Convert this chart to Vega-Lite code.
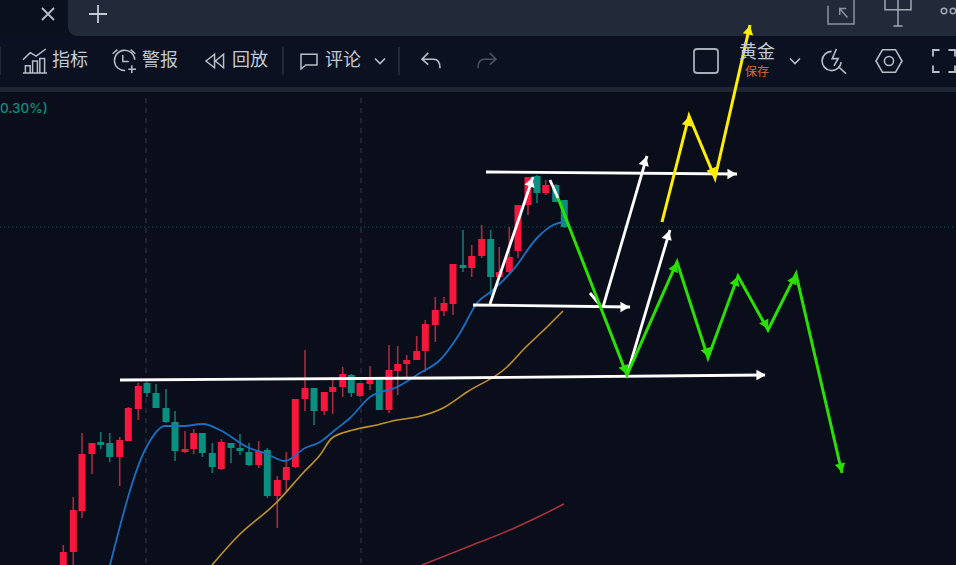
{"$schema":"https://vega.github.io/schema/vega-lite/v6.json","width":956,"height":565,"padding":0,"autosize":{"type":"none"},"background":"#090e1a","view":{"stroke":null},
"resolve":{"scale":{"color":"independent"}},
"datasets":{
"candles":[
{"x":63.3,"high":545,"low":565,"top":552,"bottom":565,"dir":"up"},
{"x":73.3,"high":497,"low":565,"top":510,"bottom":552,"dir":"up"},
{"x":82,"high":433,"low":518,"top":454,"bottom":511,"dir":"up"},
{"x":92,"high":443,"low":474,"top":443,"bottom":454,"dir":"up"},
{"x":100.7,"high":432,"low":449,"top":442,"bottom":445,"dir":"down"},
{"x":109.7,"high":433,"low":462,"top":443,"bottom":457,"dir":"down"},
{"x":119.7,"high":437,"low":486,"top":440,"bottom":457,"dir":"up"},
{"x":128.3,"high":407,"low":441,"top":408,"bottom":441,"dir":"up"},
{"x":138.3,"high":383,"low":420,"top":386,"bottom":409,"dir":"up"},
{"x":147,"high":382,"low":397,"top":383,"bottom":393,"dir":"down"},
{"x":156,"high":384,"low":408,"top":393,"bottom":408,"dir":"down"},
{"x":166,"high":389,"low":423,"top":408,"bottom":422,"dir":"down"},
{"x":175,"high":411,"low":461,"top":422,"bottom":451,"dir":"down"},
{"x":185,"high":431,"low":453,"top":449,"bottom":452,"dir":"up"},
{"x":193.7,"high":429,"low":454,"top":433,"bottom":449,"dir":"up"},
{"x":202.3,"high":433,"low":457,"top":433,"bottom":453,"dir":"down"},
{"x":212.3,"high":443,"low":473,"top":453,"bottom":467,"dir":"down"},
{"x":221.3,"high":439,"low":470,"top":442,"bottom":469,"dir":"up"},
{"x":231,"high":443,"low":463,"top":443,"bottom":448,"dir":"down"},
{"x":240,"high":434,"low":455,"top":448,"bottom":451,"dir":"down"},
{"x":249,"high":443,"low":466,"top":452,"bottom":465,"dir":"down"},
{"x":258.7,"high":441,"low":468,"top":451,"bottom":465,"dir":"up"},
{"x":267.3,"high":448,"low":498,"top":450,"bottom":496,"dir":"down"},
{"x":277.3,"high":476,"low":528,"top":480,"bottom":496,"dir":"up"},
{"x":286.3,"high":452,"low":491,"top":467,"bottom":480,"dir":"up"},
{"x":295.3,"high":399,"low":468,"top":399,"bottom":467,"dir":"up"},
{"x":305,"high":350,"low":411,"top":388,"bottom":399,"dir":"up"},
{"x":314,"high":388,"low":425,"top":388,"bottom":411,"dir":"down"},
{"x":324.3,"high":392,"low":415,"top":392,"bottom":411,"dir":"up"},
{"x":332.7,"high":380,"low":414,"top":387,"bottom":392,"dir":"up"},
{"x":342.7,"high":367,"low":397,"top":374,"bottom":387,"dir":"up"},
{"x":351.3,"high":374,"low":397,"top":375,"bottom":393,"dir":"down"},
{"x":360,"high":383,"low":397,"top":383,"bottom":396,"dir":"up"},
{"x":370,"high":366,"low":390,"top":380,"bottom":384,"dir":"up"},
{"x":379.3,"high":380,"low":410,"top":380,"bottom":410,"dir":"down"},
{"x":389,"high":345,"low":413,"top":370,"bottom":410,"dir":"up"},
{"x":397.7,"high":346,"low":395,"top":364,"bottom":371,"dir":"up"},
{"x":406.7,"high":355,"low":377,"top":360,"bottom":364,"dir":"up"},
{"x":416.7,"high":336,"low":360,"top":351,"bottom":360,"dir":"up"},
{"x":425.3,"high":320,"low":372,"top":324,"bottom":351,"dir":"up"},
{"x":435.3,"high":297,"low":342,"top":310,"bottom":325,"dir":"up"},
{"x":444,"high":297,"low":316,"top":303,"bottom":311,"dir":"up"},
{"x":453,"high":264,"low":315,"top":264,"bottom":304,"dir":"up"},
{"x":463,"high":230,"low":272,"top":265,"bottom":268,"dir":"down"},
{"x":471.7,"high":245,"low":277,"top":256,"bottom":268,"dir":"up"},
{"x":481.7,"high":225,"low":258,"top":239,"bottom":256,"dir":"up"},
{"x":490.7,"high":230,"low":295,"top":239,"bottom":277,"dir":"down"},
{"x":499.3,"high":247,"low":277,"top":272,"bottom":277,"dir":"up"},
{"x":509.3,"high":227,"low":273,"top":257,"bottom":272,"dir":"up"},
{"x":518,"high":205,"low":258,"top":205,"bottom":251,"dir":"up"},
{"x":528,"high":177,"low":215,"top":177,"bottom":205,"dir":"up"},
{"x":537,"high":175,"low":203,"top":176,"bottom":193,"dir":"down"},
{"x":545.7,"high":180,"low":195,"top":185,"bottom":193,"dir":"up"},
{"x":555.7,"high":184,"low":202,"top":185,"bottom":202,"dir":"down"},
{"x":564.3,"high":200,"low":228,"top":200,"bottom":227,"dir":"down"}
],
"whiteArrows":[
{"seg":"a","i":0,"x":120,"y":380},{"seg":"a","i":1,"x":440,"y":378},{"seg":"a","i":2,"x":765,"y":375},
{"seg":"b","i":0,"x":473,"y":305},{"seg":"b","i":1,"x":630,"y":307},
{"seg":"c","i":0,"x":486,"y":172},{"seg":"c","i":1,"x":737,"y":174},
{"seg":"d","i":0,"x":490,"y":304},{"seg":"d","i":1,"x":533,"y":177},
{"seg":"e","i":0,"x":603,"y":307},{"seg":"e","i":1,"x":647,"y":156},
{"seg":"f","i":0,"x":627,"y":375},{"seg":"f","i":1,"x":670,"y":230},
{"seg":"g","i":0,"x":550,"y":180},{"seg":"g","i":1,"x":558,"y":198},
{"seg":"h","i":0,"x":590,"y":293},{"seg":"h","i":1,"x":600,"y":305}
],
"whiteHeads":[{"x":761,"y":375,"heading":90},{"x":625,"y":307,"heading":90},{"x":732,"y":174,"heading":90},{"x":531,"y":182,"heading":19},{"x":645,"y":161,"heading":16},{"x":668,"y":235,"heading":16}],
"greenPath":[{"i":0,"x":558,"y":198},{"i":1,"x":627,"y":375},{"i":2,"x":677,"y":262},{"i":3,"x":708,"y":358},{"i":4,"x":738,"y":276},{"i":5,"x":768,"y":330},{"i":6,"x":796,"y":274},{"i":7,"x":842,"y":473}],
"greenHeads":[{"x":625,"y":370,"heading":159},{"x":675,"y":267,"heading":24},{"x":707,"y":353,"heading":162},{"x":736,"y":281,"heading":20},{"x":766,"y":325,"heading":151},{"x":794,"y":279,"heading":27},{"x":841,"y":468,"heading":167}],
"yellowPath":[{"i":0,"x":662,"y":222},{"i":1,"x":689,"y":116},{"i":2,"x":715,"y":178},{"i":3,"x":750,"y":25}],
"yellowHeads":[{"x":688,"y":121,"heading":14},{"x":713,"y":173,"heading":157},{"x":749,"y":30,"heading":13}],
"ma20":[{"i":0,"x":110,"y":565},{"i":1,"x":146,"y":448},{"i":2,"x":165,"y":426},{"i":3,"x":183,"y":426},{"i":4,"x":203,"y":424},{"i":5,"x":220,"y":430},{"i":6,"x":247,"y":447},{"i":7,"x":267,"y":454},{"i":8,"x":285,"y":461},{"i":9,"x":305,"y":448},{"i":10,"x":320,"y":442},{"i":11,"x":335,"y":430},{"i":12,"x":350,"y":418},{"i":13,"x":370,"y":397},{"i":14,"x":397,"y":387},{"i":15,"x":420,"y":373},{"i":16,"x":440,"y":360},{"i":17,"x":460,"y":333},{"i":18,"x":477,"y":303},{"i":19,"x":493,"y":290},{"i":20,"x":513,"y":270},{"i":21,"x":537,"y":238},{"i":22,"x":553,"y":225},{"i":23,"x":563,"y":222}],
"ma50":[{"i":0,"x":212,"y":565},{"i":1,"x":237,"y":537},{"i":2,"x":277,"y":502},{"i":3,"x":303,"y":473},{"i":4,"x":320,"y":455},{"i":5,"x":332,"y":438},{"i":6,"x":353,"y":430},{"i":7,"x":377,"y":425},{"i":8,"x":397,"y":420},{"i":9,"x":417,"y":417},{"i":10,"x":443,"y":408},{"i":11,"x":467,"y":392},{"i":12,"x":507,"y":367},{"i":13,"x":523,"y":350},{"i":14,"x":547,"y":327},{"i":15,"x":563,"y":311}],
"ma200":[{"i":0,"x":422,"y":565},{"i":1,"x":470,"y":546},{"i":2,"x":510,"y":530},{"i":3,"x":540,"y":516},{"i":4,"x":564,"y":504}]
},
"encoding":{
"x":{"field":"x","type":"quantitative","scale":{"domain":[0,956],"nice":false,"zero":false,"padding":0},"axis":null},
"y":{"field":"y","type":"quantitative","scale":{"domain":[565,0],"nice":false,"zero":false,"padding":0},"axis":null}
},
"layer":[
{"data":{"values":[{"x":0,"x2":956,"y":36,"y2":87}]},"mark":{"type":"rect","color":"#0b1120"},"encoding":{"x2":{"field":"x2"},"y2":{"field":"y2"}}},
{"data":{"values":[{"x":0,"x2":68,"y":0,"y2":36}]},"mark":{"type":"rect","color":"#0a101e"},"encoding":{"x2":{"field":"x2"},"y2":{"field":"y2"}}},
{"data":{"values":[{"x":68,"x2":956,"y":0,"y2":36}]},"mark":{"type":"rect","color":"#222a39","cornerRadiusBottomLeft":9},"encoding":{"x2":{"field":"x2"},"y2":{"field":"y2"}}},
{"data":{"values":[{"x":0,"x2":956,"y":87,"y2":92}]},"mark":{"type":"rect","color":"#1e2533"},"encoding":{"x2":{"field":"x2"},"y2":{"field":"y2"}}},
{"data":{"values":[{"x":283,"y":47,"y2":75},{"x":399,"y":47,"y2":75},{"x":0,"y":47,"y2":75}]},"mark":{"type":"rule","color":"#2a3140","strokeWidth":1.5},"encoding":{"y2":{"field":"y2"}}},
{"data":{"values":[{"x":146,"y":98,"y2":565},{"x":361,"y":98,"y2":565}]},"mark":{"type":"rule","color":"#2c3542","strokeWidth":1.2,"strokeDash":[5,5]},"encoding":{"y2":{"field":"y2"}}},
{"data":{"values":[{"x":0,"x2":956,"y":227}]},"mark":{"type":"rule","color":"#0f5f58","strokeWidth":1,"strokeDash":[1,3]},"encoding":{"x2":{"field":"x2"}}},
{"data":{"name":"candles"},"mark":{"type":"rule","strokeWidth":1.6},"encoding":{"y":{"field":"high","type":"quantitative","scale":{"domain":[565,0],"nice":false,"zero":false,"padding":0},"axis":null},"y2":{"field":"low"},"color":{"field":"dir","type":"nominal","scale":{"domain":["up","down"],"range":["#a82c40","#16756c"]},"legend":null}}},
{"data":{"name":"candles"},"mark":{"type":"bar","size":7},"encoding":{"y":{"field":"top","type":"quantitative","scale":{"domain":[565,0],"nice":false,"zero":false,"padding":0},"axis":null},"y2":{"field":"bottom"},"color":{"field":"dir","type":"nominal","scale":{"domain":["up","down"],"range":["#f9163c","#0b8f80"]},"legend":null}}},
{"data":{"name":"ma200"},"mark":{"type":"line","color":"#a8343a","strokeWidth":1.6,"interpolate":"monotone"},"encoding":{"order":{"field":"i"}}},
{"data":{"name":"ma50"},"mark":{"type":"line","color":"#c2922a","strokeWidth":1.6,"interpolate":"monotone"},"encoding":{"order":{"field":"i"}}},
{"data":{"name":"ma20"},"mark":{"type":"line","color":"#1a6fc4","strokeWidth":1.8,"interpolate":"monotone"},"encoding":{"order":{"field":"i"}}},
{"data":{"name":"whiteArrows"},"mark":{"type":"line","color":"#ffffff","strokeWidth":2.8},"encoding":{"detail":{"field":"seg"},"order":{"field":"i"}}},
{"data":{"name":"greenPath"},"mark":{"type":"line","color":"#29e000","strokeWidth":3},"encoding":{"order":{"field":"i"}}},
{"data":{"name":"yellowPath"},"mark":{"type":"line","color":"#ffee00","strokeWidth":3},"encoding":{"order":{"field":"i"}}},
{"data":{"name":"whiteHeads"},"mark":{"type":"point","shape":"triangle-up","filled":true,"opacity":1,"size":110,"color":"#ffffff"},"encoding":{"angle":{"field":"heading","type":"quantitative","scale":null}}},
{"data":{"name":"greenHeads"},"mark":{"type":"point","shape":"triangle-up","filled":true,"opacity":1,"size":110,"color":"#29e000"},"encoding":{"angle":{"field":"heading","type":"quantitative","scale":null}}},
{"data":{"name":"yellowHeads"},"mark":{"type":"point","shape":"triangle-up","filled":true,"opacity":1,"size":110,"color":"#ffee00"},"encoding":{"angle":{"field":"heading","type":"quantitative","scale":null}}},
{"data":{"values":[{"x":70,"y":61,"label":"指标"},{"x":160,"y":61,"label":"警报"},{"x":250,"y":61,"label":"回放"},{"x":343,"y":61,"label":"评论"},{"x":757,"y":53,"label":"黄金"}]},"mark":{"type":"text","font":"Noto Sans CJK SC","fontSize":18,"color":"#c4cad3"},"encoding":{"text":{"field":"label"}}},
{"data":{"values":[{"x":757,"y":72,"label":"保存"}]},"mark":{"type":"text","font":"Noto Sans CJK SC","fontSize":12,"color":"#e0672c"},"encoding":{"text":{"field":"label"}}},
{"data":{"values":[{"x":0,"y":109,"label":"0.30%)"}]},"mark":{"type":"text","font":"Inter","fontSize":13.5,"fontWeight":500,"align":"left","color":"#0b8f80"},"encoding":{"text":{"field":"label"}}},
{"data":{"values":[{"x":35,"y":61}]},"mark":{"type":"point","shape":"M-1,1 H1 M-0.8,1 V0.4 H-0.4 V1 M-0.2,1 V0 H0.2 V1 M0.4,1 V-0.2 H0.8 V1 M-1,-0.1 L-0.4,-0.7 L0.1,-0.4 L0.9,-1","size":576,"filled":false,"opacity":1,"stroke":"#b8bec8","strokeWidth":1.5}},
{"data":{"values":[{"x":124,"y":61}]},"mark":{"type":"point","shape":"M0.9,-0.1 A0.85,0.85 0 1 0 0.1,0.8 M-0.1,-0.5 V0.05 H0.4 M-0.95,-0.6 L-0.55,-0.95 M0.55,-0.95 L0.95,-0.6 M0.65,0.35 V1 M0.35,0.68 H1","size":576,"filled":false,"opacity":1,"stroke":"#b8bec8","strokeWidth":1.5}},
{"data":{"values":[{"x":215,"y":61}]},"mark":{"type":"point","shape":"M-0.05,-0.75 L-1,0 L-0.05,0.75 Z M0.95,-0.75 L0.05,0 L0.95,0.75 Z","size":324,"filled":false,"opacity":1,"stroke":"#b8bec8","strokeWidth":1.5}},
{"data":{"values":[{"x":309,"y":61}]},"mark":{"type":"point","shape":"M-1,-0.85 H1 V0.5 H-0.4 L-1,1 Z","size":256,"filled":false,"opacity":1,"stroke":"#b8bec8","strokeWidth":1.5}},
{"data":{"values":[{"x":380,"y":61},{"x":795,"y":61}]},"mark":{"type":"point","shape":"M-1,-0.5 L0,0.5 L1,-0.5","size":100,"filled":false,"opacity":1,"stroke":"#b8bec8","strokeWidth":1.6}},
{"data":{"values":[{"x":431,"y":61}]},"mark":{"type":"point","shape":"M-0.3,-0.9 L-1,-0.2 L-0.3,0.4 M-1,-0.2 H0.3 Q1,-0.2 1,0.8","size":324,"filled":false,"opacity":1,"stroke":"#b8bec8","strokeWidth":1.6}},
{"data":{"values":[{"x":487,"y":61}]},"mark":{"type":"point","shape":"M0.3,-0.9 L1,-0.2 L0.3,0.4 M1,-0.2 H-0.3 Q-1,-0.2 -1,0.8","size":324,"filled":false,"opacity":1,"stroke":"#4a505c","strokeWidth":1.6}},
{"data":{"values":[{"x":706,"y":61}]},"mark":{"type":"point","shape":"M-0.75,-1 H0.75 Q1,-1 1,-0.75 V0.75 Q1,1 0.75,1 H-0.75 Q-1,1 -1,0.75 V-0.75 Q-1,-1 -0.75,-1 Z","size":576,"filled":false,"opacity":1,"stroke":"#a8aeb8","strokeWidth":1.8}},
{"data":{"values":[{"x":834,"y":61}]},"mark":{"type":"point","shape":"M-0.2,-0.8 A0.8,0.8 0 1 0 0.6,0.1 M0.4,0.5 L1,1.05 M0.2,-1 L-0.15,-0.2 H0.35 L0,0.4","size":576,"filled":false,"opacity":1,"stroke":"#b8bec8","strokeWidth":1.6}},
{"data":{"values":[{"x":889,"y":61}]},"mark":{"type":"point","shape":"M-1,0 L-0.5,-0.87 H0.5 L1,0 L0.5,0.87 H-0.5 Z M0.35,0 A0.35,0.35 0 1 1 -0.35,0 A0.35,0.35 0 1 1 0.35,0","size":676,"filled":false,"opacity":1,"stroke":"#b8bec8","strokeWidth":1.6}},
{"data":{"values":[{"x":944,"y":61}]},"mark":{"type":"point","shape":"M-1,-0.4 V-1 H-0.4 M0.4,-1 H1 V-0.4 M1,0.4 V1 H0.4 M-0.4,1 H-1 V0.4","size":484,"filled":false,"opacity":1,"stroke":"#b8bec8","strokeWidth":1.8}},
{"data":{"values":[{"x":48,"y":14}]},"mark":{"type":"point","shape":"M-1,-1 L1,1 M1,-1 L-1,1","size":144,"filled":false,"opacity":1,"stroke":"#b8bec8","strokeWidth":1.8}},
{"data":{"values":[{"x":98,"y":14}]},"mark":{"type":"point","shape":"M-1,0 H1 M0,-1 V1","size":324,"filled":false,"opacity":1,"stroke":"#c4cad3","strokeWidth":1.8}},
{"data":{"values":[{"x":841,"y":11}]},"mark":{"type":"point","shape":"M-0.6,-1 H1 V1 H-1 V-0.4 M0.5,0.5 L-0.1,-0.2 M-0.1,0.3 V-0.2 H0.4","size":676,"filled":false,"opacity":1,"stroke":"#8a92a0","strokeWidth":1.5}},
{"data":{"values":[{"x":898,"y":9}]},"mark":{"type":"point","shape":"M-1,-1 H1 V0.05 H-1 Z M0,-1 V1.3 M-0.35,1.3 H0.35","size":676,"filled":false,"opacity":1,"stroke":"#a0a8b4","strokeWidth":1.5}},
{"data":{"values":[{"x":944,"y":11},{"x":953,"y":11}]},"mark":{"type":"point","shape":"circle","size":30,"filled":false,"opacity":1,"stroke":"#a0a8b4","strokeWidth":1.5}}
]}
